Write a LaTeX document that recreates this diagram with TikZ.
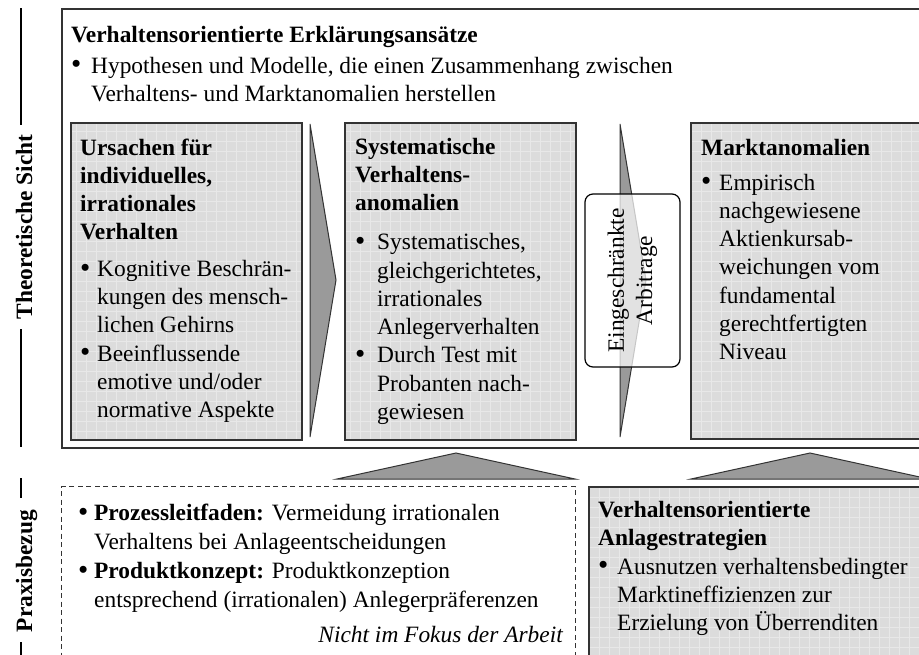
\documentclass[tikz,border=0pt]{standalone}
\usepackage{fontspec}
\setmainfont{Liberation Serif}
\definecolor{boxfill}{HTML}{DCDCDC}
\definecolor{gridc}{HTML}{E8E8E8}
\definecolor{trifill}{HTML}{9A9A9A}
\definecolor{edge}{HTML}{333333}
\newcommand\bl[1][18pt]{\makebox[#1][l]{\raisebox{-0.8pt}{\scalebox{1.25}{\textbullet}}}}
\newcommand\ct[1][18pt]{\hspace*{#1}}
\begin{document}
\begin{tikzpicture}[x=1pt,y=-1pt,
  every node/.style={inner sep=0pt, font=\fontsize{23.4}{28.3}\selectfont},
  txt/.style={anchor=base west, align=left},
  graybox/.style={draw=edge, line width=1.5pt, fill=boxfill, anchor=north west,
    path picture={\draw[gridc, line width=0.5pt, step=10pt]
      (path picture bounding box.south west) grid (path picture bounding box.north east);}},
  tri/.style={fill=trifill, draw=edge, line width=1pt, line join=miter},
  lab/.style={rotate=90, anchor=base, font=\fontsize{23.4}{28.3}\selectfont\bfseries},
  labline/.style={draw=black, line width=1.2pt},
  arbbox/.style={draw=black, line width=1.2pt, rounded corners=8pt, fill=white,
    fill opacity=0.72, text opacity=1, rotate=90, align=center},
]
\path[use as bounding box, clip] (0,0) rectangle (919,654);
\fill[white] (0,0) rectangle (919,654);

% outer frame
\node[draw=edge, line width=1.5pt, fill=white, anchor=north west,
      minimum width=890pt, minimum height=439pt] (outer) at (61,8) {};

% inner boxes
\node[graybox, minimum width=231pt, minimum height=317pt] (b1) at (70,122) {};
\node[graybox, minimum width=231pt, minimum height=317pt] (b2) at (344,122) {};
\node[graybox, minimum width=260pt, minimum height=316pt] (b3) at (690,122) {};

% chevrons
\draw[tri] (310,124) -- (336,280) -- (310,437) -- cycle;
\draw[tri] (620,124) -- (646,280) -- (620,437) -- cycle;

% arbitrage box
\node[arbbox, minimum width=173pt, minimum height=95pt] (arb) at (632.5,280.5)
  {Eingeschränkte\\Arbitrage};

% lower boxes
\node[draw=edge, line width=1.2pt, dash pattern=on 5pt off 3.5pt, anchor=north west,
      minimum width=514pt, minimum height=200pt] (prax) at (61,486) {};
\node[graybox, minimum width=360pt, minimum height=200pt] (strat) at (588,486) {};

% up triangles
\draw[tri] (337,479) -- (456,453) -- (575,479) -- cycle;
\draw[tri] (691,479) -- (810,453) -- (929,479) -- cycle;

% side labels
\node[lab] (theo) at (32,227) {Theoretische Sicht};
\draw[labline] (21,8) -- (21,125);
\draw[labline] (21,329) -- (21,447);
\node[lab] (praxl) at (32,571) {Praxisbezug};
\draw[labline] (21,478) -- (21,498);
\draw[labline] (21,642) -- (21,664);

% texts (anchor = baseline of the last line)
\node[txt] (ttop) at (71,101.3) {{\bfseries Verhaltensorientierte Erklärungsansätze}\\[2.7pt]
  \bl[20pt]Hypothesen und Modelle, die einen Zusammenhang zwischen\\
  \ct[20pt]Verhaltens- und Marktanomalien herstellen};

\node[txt] (t1) at (80,417.7) {{\bfseries Ursachen für}\\{\bfseries individuelles,}\\
  {\bfseries irrationales}\\{\bfseries Verhalten}\\[8pt]
  \bl[17pt]Kognitive Beschrän-\\\ct[17pt]kungen des mensch-\\\ct[17pt]lichen Gehirns\\
  \bl[17pt]Beeinflussende\\\ct[17pt]emotive und/oder\\\ct[17pt]normative Aspekte};

\node[txt] (t2) at (355,419.5) {{\bfseries Systematische}\\{\bfseries Verhaltens-}\\
  {\bfseries anomalien}\\[10.5pt]
  \bl[22pt]Systematisches,\\\ct[22pt]gleichgerichtetes,\\\ct[22pt]irrationales\\\ct[22pt]Anlegerverhalten\\
  \bl[22pt]Durch Test mit\\\ct[22pt]Probanten nach-\\\ct[22pt]gewiesen};

\node[txt] (t3) at (701,359.8) {{\bfseries Marktanomalien}\\[6.7pt]
  \bl[18pt]Empirisch\\\ct[18pt]nachgewiesene\\\ct[18pt]Aktienkursab-\\\ct[18pt]weichungen vom\\
  \ct[18pt]fundamental\\\ct[18pt]gerechtfertigten\\\ct[18pt]Niveau};

\node[txt] (t4) at (78,607) {\bl[16pt]{\bfseries Prozessleitfaden:} Vermeidung irrationalen\\[0.4pt]
  \ct[16pt]Verhaltens bei Anlageentscheidungen\\[0.4pt]
  \bl[16pt]{\bfseries Produktkonzept:} Produktkonzeption\\[0.4pt]
  \ct[16pt]entsprechend (irrationalen) Anlegerpräferenzen};
\node[anchor=base east, font=\fontsize{23.4}{28.3}\selectfont\itshape] (nfok) at (563,642)
  {Nicht im Fokus der Arbeit};

\node[txt] (t5) at (598,630.7) {{\bfseries Verhaltensorientierte}\\{\bfseries Anlagestrategien}\\[0.5pt]
  \bl[19pt]Ausnutzen verhaltensbedingter\\\ct[19pt]Marktineffizienzen zur\\
  \ct[19pt]Erzielung von Überrenditen};
\end{tikzpicture}
\end{document}
